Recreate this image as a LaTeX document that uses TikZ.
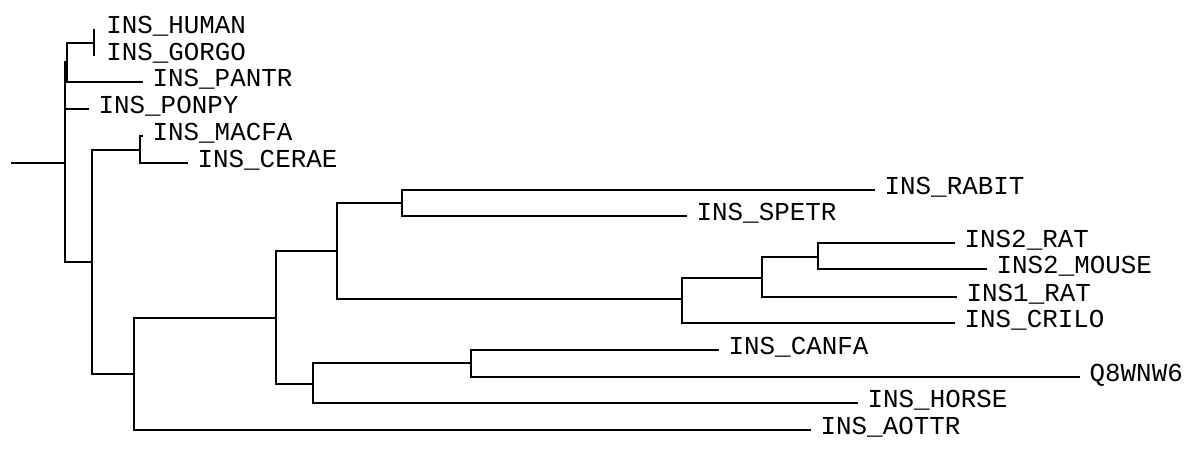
\documentclass[tikz,border=0pt]{standalone}
\usepackage{fontspec}
\setmonofont{Liberation Mono}
\usetikzlibrary{positioning}

\begin{document}
\begin{tikzpicture}[
        x=0.75pt, y=-0.75pt, line width=1.5pt,
        branch/.style={draw, black, line join=miter},
        taxon/.style={anchor=base west, inner sep=0pt, xshift=6.5pt, yshift=-3pt,
                      font=\ttfamily\fontsize{19.4}{20}\selectfont}
    ]
        \useasboundingbox (0,0) rectangle (1192,451);
        % inner nodes of the tree
        \coordinate (stem)  at (11,163);
        \coordinate (root)  at (65,163);
        \coordinate (hom)   at (67,62);
        \coordinate (hg)    at (94,43);
        \coordinate (mam)   at (92,262);
        \coordinate (mc)    at (140,150);
        \coordinate (eut)   at (134,374);
        \coordinate (glir)  at (276,318);
        \coordinate (rod)   at (337,251);
        \coordinate (rs)    at (402,203);
        \coordinate (mur)   at (682,299);
        \coordinate (ratm)  at (762,278);
        \coordinate (ins2)  at (818,257);
        \coordinate (lau)   at (313,384);
        \coordinate (cq)    at (471,363);
        % branch tips
        \coordinate (humanT)  at (94,29);
        \coordinate (gorgoT)  at (94,56);
        \coordinate (pantrT)  at (143,82);
        \coordinate (ponpyT)  at (89,109);
        \coordinate (macfaT)  at (143,136);
        \coordinate (ceraeT)  at (188,163);
        \coordinate (rabitT)  at (875,190);
        \coordinate (spetrT)  at (687,216);
        \coordinate (ratTwoT) at (955,243);
        \coordinate (mouseT)  at (987,269);
        \coordinate (ratOneT) at (957,297);
        \coordinate (criloT)  at (955,323);
        \coordinate (canfaT)  at (719,350);
        \coordinate (qwnT)    at (1080,377);
        \coordinate (horseT)  at (858,403);
        \coordinate (aottrT)  at (811,430);

        \path[branch] (stem) -- (root);
        \path[branch] (root) |- (hom);
        \path[branch] (root) |- (ponpyT);
        \path[branch] (root) |- (mam);
        \path[branch] (hom)  |- (hg);
        \path[branch] (hom)  |- (pantrT);
        \path[branch] (hg)   -- (humanT);
        \path[branch] (hg)   -- (gorgoT);
        \path[branch] (mam)  |- (mc);
        \path[branch] (mam)  |- (eut);
        \path[branch] (mc)   |- (macfaT);
        \path[branch] (mc)   |- (ceraeT);
        \path[branch] (eut)  |- (glir);
        \path[branch] (eut)  |- (aottrT);
        \path[branch] (glir) |- (rod);
        \path[branch] (glir) |- (lau);
        \path[branch] (rod)  |- (rs);
        \path[branch] (rod)  |- (mur);
        \path[branch] (rs)   |- (rabitT);
        \path[branch] (rs)   |- (spetrT);
        \path[branch] (mur)  |- (ratm);
        \path[branch] (mur)  |- (criloT);
        \path[branch] (ratm) |- (ins2);
        \path[branch] (ratm) |- (ratOneT);
        \path[branch] (ins2) |- (ratTwoT);
        \path[branch] (ins2) |- (mouseT);
        \path[branch] (lau)  |- (cq);
        \path[branch] (lau)  |- (horseT);
        \path[branch] (cq)   |- (canfaT);
        \path[branch] (cq)   |- (qwnT);

        % leaf labels
        \node[taxon, xshift=2pt] (human) at (humanT)  {INS\_HUMAN};
        \node[taxon, xshift=2pt] (gorgo) at (gorgoT)  {INS\_GORGO};
        \node[taxon] (pantr)  at (pantrT)  {INS\_PANTR};
        \node[taxon] (ponpy)  at (ponpyT)  {INS\_PONPY};
        \node[taxon] (macfa)  at (macfaT)  {INS\_MACFA};
        \node[taxon] (cerae)  at (ceraeT)  {INS\_CERAE};
        \node[taxon] (rabit)  at (rabitT)  {INS\_RABIT};
        \node[taxon] (spetr)  at (spetrT)  {INS\_SPETR};
        \node[taxon] (ratTwo) at (ratTwoT) {INS2\_RAT};
        \node[taxon] (mouse)  at (mouseT)  {INS2\_MOUSE};
        \node[taxon] (ratOne) at (ratOneT) {INS1\_RAT};
        \node[taxon] (crilo)  at (criloT)  {INS\_CRILO};
        \node[taxon] (canfa)  at (canfaT)  {INS\_CANFA};
        \node[taxon] (qwn)    at (qwnT)    {Q8WNW6};
        \node[taxon] (horse)  at (horseT)  {INS\_HORSE};
        \node[taxon] (aottr)  at (aottrT)  {INS\_AOTTR};
    \end{tikzpicture}
\end{document}
